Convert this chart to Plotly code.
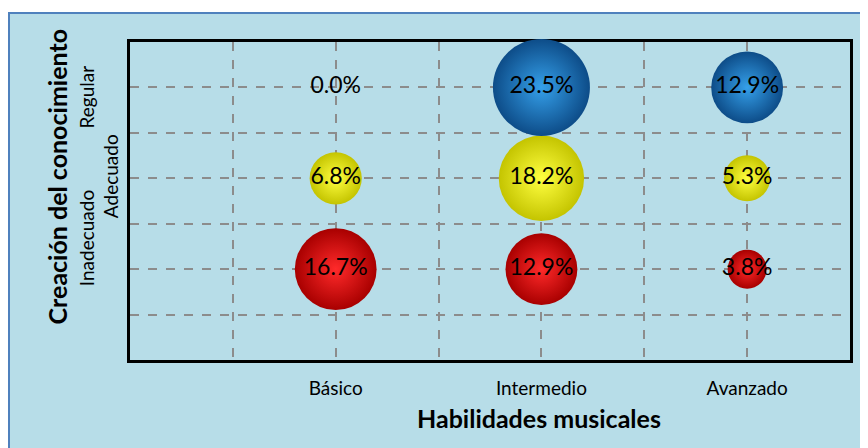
import plotly.graph_objects as go

# Datos de la tabla cruzada (porcentajes)
habilidades = ["Básico", "Intermedio", "Avanzado"]
niveles = ["Inadecuado", "Adecuado", "Regular"]

pct_inadecuado = [16.7, 12.9, 3.8]
pct_adecuado = [6.8, 18.2, 5.3]
pct_regular = [0.0, 23.5, 12.9]

x_pos = [1, 2, 3]
y_pos = [1, 2, 3]

series = [
    (pct_inadecuado, y_pos[0], "#a80000", "#ff2a2a"),
    (pct_adecuado, y_pos[1], "#c4c400", "#ffff40"),
    (pct_regular, y_pos[2], "#0d4c88", "#35a0ea"),
]

fuente = "Lato, 'Open Sans', sans-serif"
max_val = max(pct_inadecuado + pct_adecuado + pct_regular)
sizeref = 2.0 * max_val / (97 ** 2)

fig = go.Figure()
for valores, nivel, borde, centro in series:
    fig.add_trace(go.Scatter(
        x=x_pos,
        y=[nivel] * len(valores),
        mode="markers+text",
        text=[f"{v:.1f}%" for v in valores],
        textposition="middle center",
        textfont=dict(family=fuente, size=23, color="black"),
        marker=dict(
            size=valores,
            sizemode="area",
            sizeref=sizeref,
            color=borde,
            gradient=dict(type="radial", color=centro),
            line=dict(width=0),
            opacity=1,
        ),
        cliponaxis=False,
        showlegend=False,
        hoverinfo="skip",
    ))

grid_x = [0.5, 1, 1.5, 2, 2.5, 3]
grid_text_x = ["", habilidades[0], "", habilidades[1], "", habilidades[2]]
grid_y = [0.5, 1, 1.5, 2, 2.5, 3]

fig.update_xaxes(
    range=[0, 3.5],
    tickvals=grid_x,
    ticktext=grid_text_x,
    ticks="",
    ticklabelstandoff=9,
    tickfont=dict(family=fuente, size=19, color="black"),
    showgrid=True,
    gridcolor="#8c8c8c",
    gridwidth=1.5,
    griddash="dash",
    zeroline=False,
    showline=True,
    mirror=True,
    linecolor="black",
    linewidth=3,
    layer="below traces",
)
fig.update_yaxes(
    range=[0, 3.5],
    tickvals=grid_y,
    ticktext=[""] * len(grid_y),
    ticks="",
    showgrid=True,
    gridcolor="#8c8c8c",
    gridwidth=1.5,
    griddash="dash",
    zeroline=False,
    showline=True,
    mirror=True,
    linecolor="black",
    linewidth=3,
    layer="below traces",
)

# Etiquetas del eje Y (escalonadas como en el original)
desplaz = [31, 2, -10]
x_etiq = [-0.061, -0.028, -0.061]
for nivel, yv, dy, xe in zip(niveles, y_pos, desplaz, x_etiq):
    fig.add_annotation(
        text=nivel, x=xe, y=yv, xref="paper", yref="y", yshift=dy,
        xanchor="center", yanchor="middle",
        textangle=-90, showarrow=False,
        font=dict(family=fuente, size=19, color="black"),
    )

fig.add_annotation(
    text="<b>Habilidades musicales</b>", x=0.568, y=-0.182,
    xref="paper", yref="paper", showarrow=False,
    xanchor="center", yanchor="middle",
    font=dict(family=fuente, size=25, color="black"),
)
fig.add_annotation(
    text="<b>Creación del conocimiento</b>", x=-0.101, y=0.575,
    xref="paper", yref="paper", showarrow=False, textangle=-90,
    xanchor="center", yanchor="middle",
    font=dict(family=fuente, size=25, color="black"),
)

# Fondo del área del gráfico
fig.add_shape(
    type="rect", xref="paper", yref="paper", layer="below",
    x0=(9 - 130) / 720, x1=(880 - 130) / 720,
    y0=(360 - 460) / 318, y1=(360 - 13) / 318,
    fillcolor="#b7dde8", line=dict(color="#4f81bd", width=2),
)

# la página añade 8 px de margen al cuerpo: la figura se reduce en esa medida
fig.update_layout(
    width=860,
    height=440,
    margin=dict(l=122, r=18, t=34, b=88),
    paper_bgcolor="white",
    plot_bgcolor="white",
    font=dict(family=fuente),
)

fig.write_html("out.html")
